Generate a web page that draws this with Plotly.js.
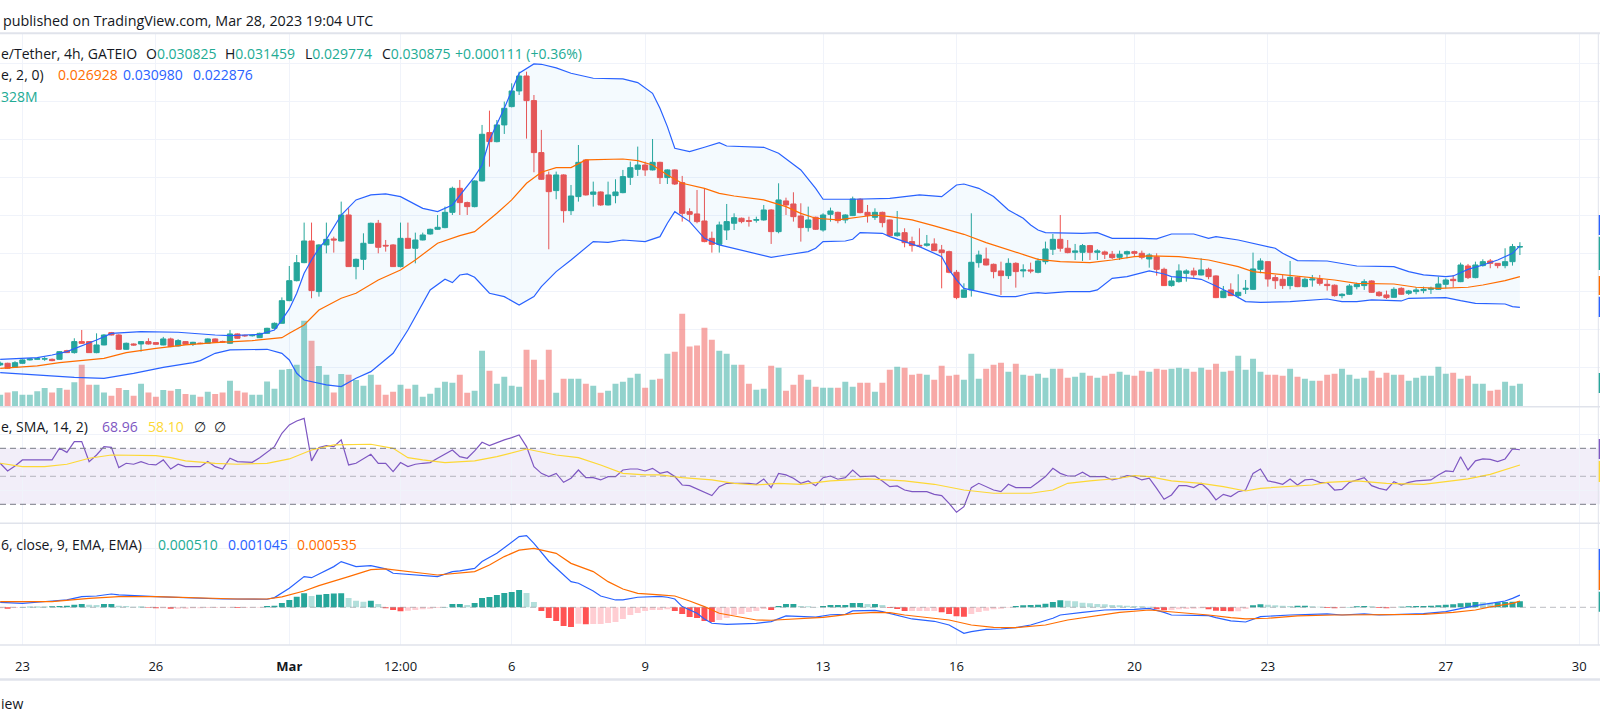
<!DOCTYPE html>
<html><head><meta charset="utf-8">
<script src="https://cdn.plot.ly/plotly-3.0.1.min.js"></script>
<style>html,body{margin:0;padding:0;background:#fff;overflow:hidden}#chart{width:1600px;height:724px}</style>
</head><body><div id="chart"></div>
<script>
// ---------- DATA ----------
const startTime = Date.UTC(2023, 1, 22, 12, 0); // first visible 4h candle
const barHours = 4;

const openP = [
0.01531,0.01553,0.01500,0.01553,0.01597,0.01605,0.01608,0.01605,0.01605,0.01719,
0.01693,0.01838,0.01838,0.01693,0.01794,0.01956,0.01925,0.01737,0.01807,0.01807,
0.01838,0.01825,0.01794,0.01873,0.01781,0.01838,0.01803,0.01818,0.01816,0.01873,
0.01840,0.01816,0.01939,0.01920,0.01915,0.01890,0.01947,0.02013,0.02079,0.02377,
0.02640,0.02877,0.03162,0.02496,0.03110,0.03189,0.03162,0.03504,0.02825,0.02921,
0.03132,0.03395,0.03105,0.03110,0.02825,0.03197,0.03066,0.03175,0.03254,0.03316,
0.03338,0.03539,0.03855,0.03667,0.03614,0.03952,0.04588,0.04469,0.04689,0.04930,
0.05136,0.05333,0.05009,0.04325,0.04031,0.03825,0.04031,0.03561,0.03746,0.04228,
0.03776,0.03807,0.03636,0.03759,0.03798,0.04000,0.04105,0.04162,0.04097,0.04197,
0.03996,0.04097,0.03930,0.03548,0.03518,0.03425,0.03197,0.03118,0.03307,0.03395,
0.03461,0.03430,0.03435,0.03439,0.03570,0.03285,0.03689,0.03649,0.03491,0.03338,
0.03474,0.03307,0.03513,0.03539,0.03439,0.03496,0.03711,0.03539,0.03474,0.03539,
0.03439,0.03232,0.03272,0.03154,0.03105,0.03105,0.03123,0.03044,0.03022,0.02750,
0.02421,0.02518,0.02877,0.02925,0.02855,0.02768,0.02706,0.02868,0.02768,0.02781,
0.02750,0.02890,0.03053,0.03184,0.03066,0.03013,0.03013,0.03101,0.03013,0.03018,
0.02987,0.02947,0.02991,0.03022,0.03000,0.02925,0.02952,0.02789,0.02575,0.02627,
0.02737,0.02768,0.02715,0.02789,0.02702,0.02417,0.02518,0.02443,0.02526,0.02526,
0.02789,0.02890,0.02680,0.02658,0.02575,0.02684,0.02561,0.02649,0.02662,0.02592,
0.02580,0.02443,0.02461,0.02561,0.02575,0.02636,0.02487,0.02452,0.02421,0.02539,
0.02474,0.02496,0.02509,0.02526,0.02526,0.02592,0.02658,0.02627,0.02833,0.02680,
0.02838,0.02899,0.02868,0.02838,0.02890,0.030825];

const highP = [
0.01575,0.01560,0.01580,0.01605,0.01620,0.01625,0.01635,0.01615,0.01712,0.01730,
0.01882,0.01991,0.01845,0.01947,0.01935,0.01965,0.01935,0.01825,0.01815,0.01845,
0.01882,0.01830,0.01900,0.01890,0.01870,0.01845,0.01835,0.01825,0.01880,0.01880,
0.01850,0.01991,0.01945,0.01930,0.01930,0.01955,0.02020,0.02090,0.02420,0.02833,
0.02978,0.03404,0.03404,0.03120,0.03404,0.03219,0.03680,0.03592,0.02930,0.03263,
0.03404,0.03439,0.03175,0.03120,0.03404,0.03404,0.03272,0.03272,0.03325,0.03504,
0.03614,0.03877,0.03965,0.03680,0.03960,0.04689,0.04877,0.04754,0.04996,0.05237,
0.05390,0.05390,0.05083,0.04623,0.04075,0.04075,0.04040,0.03899,0.04425,0.04235,
0.03943,0.03815,0.03943,0.03974,0.04097,0.04206,0.04404,0.04206,0.04504,0.04205,
0.04105,0.04105,0.04018,0.03592,0.03833,0.03855,0.03285,0.03417,0.03649,0.03526,
0.03470,0.03482,0.03482,0.03636,0.03580,0.03921,0.03732,0.03803,0.03658,0.03614,
0.03482,0.03526,0.03601,0.03548,0.03513,0.03746,0.03724,0.03636,0.03592,0.03548,
0.03445,0.03557,0.03329,0.03219,0.03329,0.03241,0.03197,0.03110,0.03035,0.02781,
0.02605,0.03526,0.03035,0.03075,0.02865,0.02890,0.02934,0.02882,0.02855,0.02877,
0.02934,0.03154,0.03254,0.03504,0.03175,0.03123,0.03123,0.03110,0.03053,0.03035,
0.03031,0.03035,0.03035,0.03035,0.03035,0.03000,0.03000,0.02811,0.02684,0.02855,
0.02789,0.02811,0.02934,0.02811,0.02710,0.02570,0.02605,0.02724,0.02649,0.03009,
0.02934,0.02895,0.02715,0.02715,0.02899,0.02693,0.02680,0.02715,0.02715,0.02649,
0.02590,0.02474,0.02596,0.02614,0.02658,0.02645,0.02504,0.02509,0.02553,0.02553,
0.02518,0.02553,0.02561,0.02561,0.02693,0.02671,0.02715,0.02877,0.02860,0.02890,
0.02921,0.02925,0.02870,0.03066,0.03123,0.031459];

const lowP = [
0.01518,0.01480,0.01496,0.01545,0.01590,0.01600,0.01585,0.01580,0.01600,0.01688,
0.01680,0.01810,0.01690,0.01685,0.01790,0.01920,0.01730,0.01730,0.01785,0.01706,
0.01800,0.01795,0.01790,0.01765,0.01775,0.01795,0.01780,0.01805,0.01810,0.01825,
0.01825,0.01810,0.01875,0.01900,0.01905,0.01885,0.01940,0.02005,0.02075,0.02370,
0.02630,0.02870,0.02408,0.02430,0.03000,0.03009,0.03155,0.02820,0.02658,0.02781,
0.03125,0.03000,0.03022,0.02820,0.02815,0.03060,0.02868,0.03170,0.03245,0.03310,
0.03330,0.03504,0.03504,0.03504,0.03605,0.03945,0.04140,0.04460,0.04570,0.04920,
0.05083,0.04509,0.04066,0.03965,0.03053,0.03711,0.03404,0.03504,0.03680,0.03760,
0.03614,0.03625,0.03630,0.03658,0.03790,0.03899,0.04018,0.04018,0.04090,0.03912,
0.03912,0.03899,0.03417,0.03417,0.03395,0.03145,0.03009,0.03009,0.03175,0.03307,
0.03395,0.03351,0.03404,0.03430,0.03123,0.03263,0.03504,0.03417,0.03154,0.03285,
0.03307,0.03285,0.03417,0.03395,0.03395,0.03490,0.03526,0.03404,0.03439,0.03342,
0.03219,0.03219,0.03079,0.03022,0.03079,0.03088,0.03030,0.02539,0.02737,0.02395,
0.02415,0.02430,0.02811,0.02840,0.02671,0.02452,0.02662,0.02548,0.02684,0.02737,
0.02737,0.02855,0.02978,0.03022,0.03000,0.02912,0.02899,0.02912,0.02912,0.02925,
0.02925,0.02912,0.02934,0.02965,0.02921,0.02811,0.02706,0.02570,0.02561,0.02614,
0.02627,0.02680,0.02710,0.02658,0.02410,0.02410,0.02439,0.02408,0.02465,0.02520,
0.02737,0.02561,0.02531,0.02531,0.02526,0.02555,0.02553,0.02561,0.02575,0.02509,
0.02430,0.02408,0.02452,0.02526,0.02518,0.02480,0.02430,0.02399,0.02417,0.02452,
0.02452,0.02461,0.02474,0.02465,0.02518,0.02539,0.02553,0.02620,0.02662,0.02671,
0.02825,0.02803,0.02803,0.02803,0.02838,0.029774];

const closeP = [
0.01553,0.01487,0.01561,0.01597,0.01610,0.01614,0.01612,0.01588,0.01706,0.01693,
0.01838,0.01816,0.01693,0.01794,0.01925,0.01925,0.01737,0.01816,0.01794,0.01838,
0.01807,0.01803,0.01873,0.01772,0.01851,0.01803,0.01829,0.01812,0.01873,0.01829,
0.01833,0.01939,0.01882,0.01915,0.01920,0.01947,0.02013,0.02079,0.02377,0.02640,
0.02877,0.03162,0.02509,0.03110,0.03184,0.03175,0.03504,0.02825,0.02921,0.03132,
0.03395,0.03079,0.03097,0.02825,0.03197,0.03066,0.03175,0.03241,0.03316,0.03342,
0.03539,0.03855,0.03667,0.03614,0.03952,0.04566,0.04469,0.04689,0.04908,0.05136,
0.05333,0.05009,0.04325,0.03974,0.03811,0.04031,0.03561,0.03754,0.04197,0.03768,
0.03807,0.03636,0.03768,0.03807,0.04009,0.04127,0.04162,0.04097,0.04197,0.03996,
0.04097,0.03912,0.03526,0.03513,0.03417,0.03154,0.03118,0.03373,0.03417,0.03469,
0.03417,0.03421,0.03443,0.03570,0.03285,0.03702,0.03636,0.03482,0.03338,0.03439,
0.03316,0.03504,0.03557,0.03430,0.03504,0.03715,0.03535,0.03496,0.03539,0.03404,
0.03232,0.03268,0.03140,0.03101,0.03097,0.03123,0.03035,0.03009,0.02750,0.02417,
0.02518,0.02882,0.02978,0.02846,0.02759,0.02706,0.02868,0.02759,0.02781,0.02768,
0.02899,0.03057,0.03184,0.03066,0.03009,0.03031,0.03101,0.03013,0.03031,0.02987,
0.02943,0.02987,0.03022,0.03000,0.02947,0.02978,0.02789,0.02575,0.02636,0.02768,
0.02768,0.02715,0.02781,0.02693,0.02417,0.02504,0.02443,0.02487,0.02539,0.02794,
0.02899,0.02662,0.02640,0.02575,0.02684,0.02561,0.02658,0.02662,0.02605,0.02575,
0.02443,0.02461,0.02570,0.02592,0.02627,0.02487,0.02443,0.02417,0.02526,0.02461,
0.02504,0.02518,0.02526,0.02539,0.02596,0.02649,0.02640,0.02846,0.02680,0.02846,
0.02890,0.02868,0.02838,0.02890,0.03088,0.030875];

// volume, millions
const volumeM = [
171,204,219,171,171,219,266,204,266,242,
347,599,314,314,204,157,266,238,157,328,
204,143,238,228,252,181,171,143,214,181,
204,371,228,204,171,171,361,257,528,537,
599,1226,941,580,456,204,466,456,380,300,
456,314,171,214,314,257,314,143,185,271,
357,342,456,200,228,799,513,328,428,300,
285,813,670,385,813,200,399,399,399,328,
300,200,228,328,357,414,471,271,385,399,
756,784,1326,860,874,1127,955,799,756,599,
599,328,242,257,585,556,228,314,456,385,
285,271,271,271,357,285,342,342,214,342,
528,570,556,456,471,456,385,585,442,456,
385,756,399,542,599,627,499,613,456,442,
471,414,542,542,414,428,485,442,414,442,
471,499,456,442,513,499,542,528,542,556,
542,499,556,528,613,499,513,727,528,684,
499,456,456,442,542,428,399,371,371,456,
471,542,456,399,414,513,414,485,456,456,
371,414,442,442,570,471,485,399,442,328,
328,228,242,357,300,328];

// Bollinger Bands (20, 2) read at candle indices
const bbUpperK = [0,5,7,9,13,15,19,24,29,31,35,37,38,39,40,41,42,43,44,45,46,48,50,52,54,57,59,61,63,64,65,66,68,69,70,72,73,75,77,80,84,86,88,89,90,91,93,95,97,98,103,105,108,110,111,115,120,124,127,129,130,132,134,136,138,139,140,141,146,148,150,154,156,158,161,163,164,167,169,172,173,175,179,181,183,188,190,192,195,196,198,200,202,204,205];
const bbUpper = [0.01605,0.01627,0.01662,0.01706,0.01860,0.01947,0.01969,0.01961,0.01925,0.01917,0.01934,0.01991,0.02123,0.02268,0.02474,0.02737,0.02912,0.03066,0.03184,0.03351,0.03504,0.03702,0.03768,0.03781,0.03746,0.03592,0.03548,0.03636,0.03877,0.04009,0.04162,0.04491,0.04908,0.05149,0.05369,0.05491,0.05487,0.05439,0.05369,0.05303,0.05294,0.05246,0.05105,0.04908,0.04667,0.04382,0.04338,0.04395,0.04456,0.04412,0.04395,0.04316,0.04097,0.03855,0.03711,0.03711,0.03724,0.03768,0.03746,0.03899,0.03912,0.03855,0.03746,0.03570,0.03461,0.03373,0.03307,0.03272,0.03263,0.03272,0.03197,0.03197,0.03189,0.03254,0.03254,0.03197,0.03219,0.03175,0.03132,0.03066,0.03000,0.02904,0.02899,0.02868,0.02833,0.02825,0.02759,0.02715,0.02693,0.02702,0.02789,0.02846,0.02912,0.03000,0.03098];
const bbMidK = [0,5,8,12,14,17,21,25,29,34,35,37,38,39,41,43,46,48,51,54,56,59,62,64,66,67,69,71,73,75,77,79,84,86,88,90,92,95,97,99,103,106,108,110,113,116,118,120,123,126,129,130,133,136,139,140,143,147,150,153,155,159,163,167,169,172,176,180,183,188,191,194,198,200,203,205];
const bbMid = [0.01487,0.01518,0.01561,0.01597,0.01618,0.01693,0.01750,0.01794,0.01825,0.01851,0.01860,0.01877,0.01890,0.01947,0.02057,0.02254,0.02408,0.02474,0.02649,0.02781,0.02912,0.03132,0.03232,0.03285,0.03439,0.03526,0.03702,0.03921,0.04066,0.04127,0.04127,0.04228,0.04241,0.04219,0.04162,0.04031,0.03921,0.03855,0.03789,0.03754,0.03702,0.03614,0.03526,0.03461,0.03439,0.03482,0.03504,0.03482,0.03439,0.03360,0.03276,0.03250,0.03140,0.03044,0.02956,0.02921,0.02890,0.02877,0.02912,0.02956,0.02965,0.02956,0.02912,0.02825,0.02759,0.02728,0.02684,0.02649,0.02605,0.02596,0.02553,0.02539,0.02553,0.02583,0.02640,0.026928];
const bbLowerK = [0,5,10,14,18,22,26,27,29,31,36,38,39,40,41,44,46,48,50,53,55,58,60,61,62,63,64,66,68,70,72,73,75,77,79,80,82,84,87,89,90,91,93,95,97,99,102,104,106,109,110,111,114,115,116,119,120,122,124,127,128,129,130,132,135,137,139,140,141,144,147,148,150,152,154,155,157,158,161,162,164,166,168,170,174,179,181,183,185,189,190,195,197,199,203,204,205];
const bbLower = [0.01430,0.01399,0.01368,0.01355,0.01421,0.01500,0.01561,0.01588,0.01684,0.01728,0.01737,0.01684,0.01597,0.01421,0.01333,0.01268,0.01246,0.01355,0.01443,0.01684,0.01991,0.02518,0.02658,0.02614,0.02715,0.02728,0.02684,0.02474,0.02430,0.02320,0.02430,0.02561,0.02759,0.02912,0.03066,0.03154,0.03145,0.03175,0.03154,0.03219,0.03395,0.03548,0.03417,0.03197,0.03110,0.03066,0.03000,0.02947,0.02978,0.03022,0.03066,0.03154,0.03162,0.03184,0.03272,0.03263,0.03219,0.03154,0.03088,0.02956,0.02781,0.02649,0.02539,0.02496,0.02430,0.02430,0.02474,0.02482,0.02474,0.02496,0.02496,0.02518,0.02671,0.02693,0.02737,0.02768,0.02728,0.02693,0.02671,0.02658,0.02570,0.02474,0.02364,0.02355,0.02364,0.02399,0.02364,0.02364,0.02386,0.02373,0.02408,0.02417,0.02377,0.02342,0.02333,0.02298,0.022876];

// RSI (14) per candle
const rsi = [
59.3,53.8,57.4,61.7,61.7,61.7,61.7,61.7,70.0,67.1,
74.8,74.8,60.5,65.2,71.2,70.7,56.2,59.3,58.6,60.5,
58.6,58.1,61.7,55.2,58.6,56.9,56.9,56.9,60.5,56.9,
55.2,62.9,60.5,60.2,60.0,63.3,67.1,71.2,80.7,86.7,
89.5,91.4,61.0,70.5,71.9,71.2,76.0,58.1,59.3,62.4,
65.7,59.3,59.3,53.3,59.8,56.9,58.6,59.3,59.8,62.9,
65.7,68.8,64.0,62.9,68.1,74.3,71.9,74.0,76.0,77.6,
79.5,71.2,56.9,52.1,49.8,52.1,45.7,48.6,54.5,49.0,
49.0,47.4,49.8,49.8,54.5,55.2,55.2,53.8,55.7,52.1,
53.3,49.8,43.8,43.3,41.0,39.0,36.2,42.6,45.0,45.0,
45.0,45.0,44.3,48.1,41.9,52.1,51.0,48.6,45.0,46.7,
43.3,49.0,50.2,47.9,49.0,54.5,49.8,49.8,50.2,46.7,
42.6,43.1,40.2,39.0,39.0,39.0,37.1,36.2,30.7,24.3,
28.3,41.9,45.0,42.6,40.2,39.0,44.3,41.9,41.9,41.9,
45.7,49.8,55.7,52.1,50.2,50.2,52.9,49.8,49.8,49.8,
47.4,48.6,50.5,49.8,47.4,48.6,41.4,33.6,36.7,43.3,
43.3,41.9,45.0,40.2,33.1,37.1,35.5,39.0,40.2,52.1,
55.2,46.7,45.7,44.3,48.1,43.8,47.4,47.9,45.7,45.5,
40.2,40.7,45.7,47.4,49.0,43.3,41.4,40.2,46.2,43.8,
45.7,46.7,47.1,47.4,51.0,53.8,53.3,64.0,54.5,61.0,
62.4,62.1,60.5,62.4,69.5,68.96];
const rsiMaK = [0,3,6,9,12,15,21,23,25,29,32,36,39,42,45,50,53,55,57,60,64,67,71,75,78,81,84,87,89,92,96,99,102,105,108,112,117,122,126,130,134,139,142,144,147,151,153,155,158,162,165,168,170,174,177,179,183,187,192,195,198,201,203,205];
const rsiMa = [59.3,56.9,56.9,58.6,62.9,65.2,64.8,63.3,61.0,59.3,58.6,59.3,62.4,68.8,72.4,72.9,70.0,63.3,61.7,59.8,61.0,64.0,69.5,65.2,63.3,58.1,52.1,51.0,51.0,49.0,47.4,45.0,43.8,45.0,44.3,46.7,48.1,46.7,44.3,40.2,37.9,37.9,40.2,45.0,46.7,48.6,50.5,49.8,46.7,45.0,42.6,39.5,41.4,42.6,43.8,45.7,46.7,45.0,44.3,46.2,48.1,51.4,54.5,58.10];

// MACD (12, 26, 9)
const macdK = [0,3,7,9,11,13,15,16,21,26,30,36,37,39,41,42,44,45,46,47,48,50,52,53,56,59,61,62,64,65,67,68,70,71,72,74,75,77,78,80,81,83,84,86,89,90,91,92,94,95,96,98,102,104,106,108,110,112,114,115,118,119,121,123,126,128,130,131,133,135,137,139,142,143,146,149,153,155,157,158,163,164,166,168,170,174,179,181,184,186,189,192,195,197,199,201,203,204,205];
const macdLine = [0.00043,0.00034,0.00054,0.00063,0.00091,0.00097,0.00114,0.00106,0.00091,0.00083,0.00071,0.00069,0.00083,0.00163,0.00263,0.00254,0.00320,0.00349,0.00392,0.00369,0.00349,0.00357,0.00329,0.00292,0.00277,0.00263,0.00306,0.00312,0.00334,0.00392,0.00463,0.00510,0.00606,0.00615,0.00549,0.00395,0.00334,0.00220,0.00206,0.00140,0.00097,0.00063,0.00063,0.00086,0.00094,0.00086,0.00071,0.00006,-0.00051,-0.00100,-0.00137,-0.00146,-0.00137,-0.00123,-0.00074,-0.00080,-0.00085,-0.00064,-0.00060,-0.00031,-0.00026,-0.00037,-0.00066,-0.00100,-0.00120,-0.00152,-0.00223,-0.00209,-0.00189,-0.00186,-0.00174,-0.00152,-0.00094,-0.00066,-0.00043,-0.00023,-0.00017,-0.00009,-0.00043,-0.00066,-0.00071,-0.00089,-0.00117,-0.00126,-0.00080,-0.00066,-0.00057,-0.00066,-0.00057,-0.00066,-0.00060,-0.00054,-0.00037,-0.00009,0.00014,0.00034,0.00054,0.00077,0.001045];
const signalK = [0,7,12,16,21,27,32,36,38,41,43,47,50,52,54,57,59,62,64,66,68,70,72,75,77,80,82,84,86,89,91,93,95,97,100,102,104,106,109,111,113,115,118,120,122,125,128,131,134,137,141,144,148,151,155,158,163,166,168,171,175,180,188,192,196,199,201,204,205];
const signalLine = [0.00049,0.00049,0.00077,0.00091,0.00091,0.00077,0.00071,0.00071,0.00089,0.00140,0.00186,0.00263,0.00323,0.00329,0.00312,0.00292,0.00277,0.00292,0.00306,0.00363,0.00435,0.00490,0.00506,0.00463,0.00377,0.00306,0.00220,0.00157,0.00120,0.00106,0.00097,0.00054,0.00006,-0.00051,-0.00089,-0.00109,-0.00111,-0.00103,-0.00094,-0.00086,-0.00071,-0.00054,-0.00043,-0.00046,-0.00066,-0.00088,-0.00109,-0.00152,-0.00172,-0.00174,-0.00152,-0.00109,-0.00071,-0.00043,-0.00023,-0.00037,-0.00066,-0.00089,-0.00100,-0.00094,-0.00074,-0.00066,-0.00066,-0.00060,-0.00043,-0.00023,0.00003,0.00034,0.000535];
const macdHist = [
-0.000086,-0.000114,-0.000057,0.000029,0.000057,0.000057,0.000057,0.000086,0.000114,0.000143,
0.000229,0.000286,0.000229,0.0002,0.000286,0.000286,0.000143,0.000114,0.000057,0.000057,
-0.000029,-0.000086,-0.000086,-0.000114,-0.000114,-0.000114,-0.000086,-0.000086,-0.000057,-0.000057,
-0.000057,-0.000029,-0.000057,-0.000057,-0.000029,-0.000029,0.000114,0.000143,0.000372,0.000629,
0.000915,0.001201,0.000972,0.001087,0.001144,0.001173,0.001201,0.000801,0.000572,0.000486,
0.000572,0.000286,-0.000086,-0.000229,-0.000343,-0.000286,-0.000229,-0.000172,-0.000114,-0.000057,
0.000029,0.000286,0.000286,0.0002,0.000372,0.000801,0.000887,0.001058,0.00123,0.001316,
0.001487,0.00123,0.000458,-0.000315,-0.000915,-0.001173,-0.001602,-0.001687,-0.001401,-0.001459,
-0.00143,-0.00143,-0.001344,-0.001258,-0.001,-0.000658,-0.000486,-0.000315,-0.000229,-0.000229,
-0.000172,-0.000315,-0.000572,-0.000829,-0.000915,-0.001173,-0.001258,-0.001087,-0.000915,-0.000658,
-0.000572,-0.0004,-0.000315,-0.000143,-0.000229,0.000114,0.000286,0.000286,0.000114,0.000086,
0.000029,0.000114,0.0002,0.0002,0.0002,0.000372,0.000372,0.000286,0.000286,0.0002,
-0.000057,-0.000143,-0.000315,-0.000315,-0.000315,-0.000315,-0.000315,-0.000429,-0.000572,-0.000772,
-0.000801,-0.000572,-0.0004,-0.000286,-0.000172,-0.000114,-0.000029,0.000114,0.000172,0.0002,
0.000229,0.000315,0.000458,0.000601,0.000572,0.000515,0.0004,0.000343,0.000286,0.000257,
0.0002,0.000172,0.000143,0.000114,0.000086,0.000057,-0.000172,-0.000257,-0.000229,-0.000172,
-0.000143,-0.000114,-0.000086,-0.000172,-0.000286,-0.000315,-0.000343,-0.000343,-0.000143,0.000172,
0.000257,0.000229,0.000172,0.000143,0.000114,0.000143,0.000143,0.000086,0.000057,-0.000057,
-0.000086,-0.000057,0.000029,0.000086,0.000114,0.000086,-0.000057,-0.000086,-0.000029,0.000057,
0.000086,0.000114,0.000114,0.000143,0.000172,0.000229,0.000257,0.000343,0.0004,0.000458,
0.000429,0.0004,0.000429,0.000458,0.000486,0.00051];

// time-axis labels
const tickDates = ['2023-02-23','2023-02-26','2023-03-01','2023-03-03 12:00','2023-03-06','2023-03-09','2023-03-13','2023-03-16','2023-03-20','2023-03-23','2023-03-27','2023-03-30'];
const tickLabels = ['23','26','<b>Mar</b>','12:00','6','9','13','16','20','23','27','30'];

// ---------- BUILD ----------
function t(k){ return new Date(startTime + k*barHours*3600000).toISOString().slice(0,16).replace('T',' '); }
const times = openP.map((_, i) => t(i));
const UP = '#26a69a', DN = '#ef5350';
const volColors = closeP.map((c, i) => c >= openP[i] ? 'rgba(38,166,154,0.5)' : 'rgba(239,83,80,0.5)');
const histColors = macdHist.map((v, i) => {
  const p = i > 0 ? macdHist[i-1] : v;
  if (v >= 0) return v >= p ? '#26a69a' : '#b2dfdb';
  return v < p ? '#ff5252' : '#ffcdd2';
});

const traces = [
  {type:'bar', x:times, y:volumeM, xaxis:'x', yaxis:'y', marker:{color:volColors, line:{width:0}}, hoverinfo:'skip'},
  {type:'scatter', mode:'lines', xaxis:'x', yaxis:'y2',
   x: bbUpperK.map(t).concat(bbLowerK.slice().reverse().map(t)),
   y: bbUpper.concat(bbLower.slice().reverse()),
   fill:'toself', fillcolor:'rgba(33,150,243,0.05)', line:{width:0}, hoverinfo:'skip'},
  {type:'candlestick', x:times, open:openP, high:highP, low:lowP, close:closeP, xaxis:'x', yaxis:'y2',
   increasing:{line:{color:UP, width:1}, fillcolor:UP}, decreasing:{line:{color:DN, width:1}, fillcolor:DN},
   whiskerwidth:0, hoverinfo:'skip'},
  {type:'scatter', mode:'lines', x:bbUpperK.map(t), y:bbUpper, xaxis:'x', yaxis:'y2', line:{color:'#2962ff', width:1.2}, hoverinfo:'skip'},
  {type:'scatter', mode:'lines', x:bbLowerK.map(t), y:bbLower, xaxis:'x', yaxis:'y2', line:{color:'#2962ff', width:1.2}, hoverinfo:'skip'},
  {type:'scatter', mode:'lines', x:bbMidK.map(t), y:bbMid, xaxis:'x', yaxis:'y2', line:{color:'#ff6d00', width:1.2}, hoverinfo:'skip'},
  {type:'scatter', mode:'lines', x:times, y:rsi, xaxis:'x', yaxis:'y3', line:{color:'#7e57c2', width:1.2}, hoverinfo:'skip'},
  {type:'scatter', mode:'lines', x:rsiMaK.map(t), y:rsiMa, xaxis:'x', yaxis:'y3', line:{color:'#fdd835', width:1.2}, hoverinfo:'skip'},
  {type:'bar', x:times, y:macdHist, xaxis:'x', yaxis:'y4', marker:{color:histColors, line:{width:0}}, hoverinfo:'skip'},
  {type:'scatter', mode:'lines', x:macdK.map(t), y:macdLine, xaxis:'x', yaxis:'y4', line:{color:'#2962ff', width:1.2}, hoverinfo:'skip'},
  {type:'scatter', mode:'lines', x:signalK.map(t), y:signalLine, xaxis:'x', yaxis:'y4', line:{color:'#ff6d00', width:1.2}, hoverinfo:'skip'}
];

const W = 1600, H = 724;
const px = v => v / W, py = v => 1 - v / H;
const GRID = '#f0f3fa', SEP = '#e0e3eb', TXT = '#131722';
const FONT = '"Open Sans", Roboto, sans-serif';

function ann(text, x, y, color, size){
  return {text:text, x:px(x), y:py(y), xref:'paper', yref:'paper', xanchor:'left', yanchor:'middle',
          showarrow:false, borderpad:0, font:{family:FONT, size:size||14, color:color||TXT}};
}
const G = '#22ab94';
const annotations = [
  ann('published on TradingView.com, Mar 28, 2023 19:04 UTC', 2, 20.7, TXT, 14.3),
  ann('e/Tether, 4h, GATEIO', 0, 54),
  ann('O<span style="color:'+G+'">0.030825</span>', 145, 54),
  ann('H<span style="color:'+G+'">0.031459</span>', 224, 54),
  ann('L<span style="color:'+G+'">0.029774</span>', 304, 54),
  ann('C<span style="color:'+G+'">0.030875</span>', 380.5, 54),
  ann('+0.000111 (+0.36%)', 453.5, 54, G),
  ann('e, 2, 0)', 0, 75),
  ann('0.026928', 57, 75, '#ff6d00'),
  ann('0.030980', 122, 75, '#2962ff'),
  ann('0.022876', 192, 75, '#2962ff'),
  ann('328M', 0, 96, G),
  ann('e, SMA, 14, 2)', 0, 426.7),
  ann('68.96', 101, 426.7, '#7e57c2'),
  ann('58.10', 147, 426.7, '#fdd835'),
  ann('\u2205', 193, 426.7),
  ann('\u2205', 213, 426.7),
  ann('6, close, 9, EMA, EMA)', 0, 544),
  ann('0.000510', 157, 544, G),
  ann('0.001045', 227, 544, '#2962ff'),
  ann('0.000535', 296, 544, '#ff6d00'),
  ann('iew', 0, 703, TXT, 14)
];

function hline(y, color, width, dash){
  return {type:'line', xref:'paper', yref:'paper', x0:0, x1:1, y0:py(y), y1:py(y), line:{color:color, width:width, dash:dash||'solid'}};
}
const shapes = [
  {type:'rect', xref:'paper', yref:'y3', x0:0, x1:1, y0:30, y1:70, fillcolor:'rgba(126,87,194,0.1)', line:{width:0}, layer:'below'},
  {type:'line', xref:'paper', yref:'y3', x0:0, x1:1, y0:70, y1:70, line:{color:'#787b86', width:1, dash:'6px,4px'}},
  {type:'line', xref:'paper', yref:'y3', x0:0, x1:1, y0:50, y1:50, line:{color:'rgba(120,123,134,0.5)', width:1, dash:'6px,4px'}},
  {type:'line', xref:'paper', yref:'y3', x0:0, x1:1, y0:30, y1:30, line:{color:'#787b86', width:1, dash:'6px,4px'}},
  {type:'line', xref:'paper', yref:'y4', x0:0, x1:1, y0:0, y1:0, line:{color:'rgba(120,123,134,0.5)', width:1, dash:'6px,4px'}},
  hline(33.3, SEP, 2),
  hline(406.7, SEP, 1.5),
  hline(523.3, SEP, 1.5),
  hline(645, SEP, 1.5),
  hline(679.5, SEP, 2.5),
  {type:'line', xref:'paper', yref:'paper', x0:px(1598.3), x1:px(1598.3), y0:py(645), y1:py(34), line:{color:SEP, width:1}}
];
[[215,235,'#2962ff'],[236.7,270,'#26a69a'],[276,295,'#ff6d00'],[296.7,317,'#2962ff'],[373,393,'#26a69a'],
 [439,459,'#7e57c2'],[461,482,'#fdd835'],[549,570,'#2962ff'],[570,590,'#ff6d00'],[591.7,611.7,'#26a69a']].forEach(s => {
  shapes.push({type:'rect', xref:'paper', yref:'paper', x0:px(1598.7), x1:1, y0:py(s[1]), y1:py(s[0]), fillcolor:s[2], line:{width:0}});
});

const layout = {
  width:W, height:H, margin:{l:0, r:0, t:0, b:0, pad:0},
  paper_bgcolor:'#ffffff', plot_bgcolor:'#ffffff', showlegend:false,
  font:{family:FONT, color:TXT},
  barmode:'overlay', bargap:0.2, boxgap:0.3, boxgroupgap:0,
  xaxis:{type:'date', domain:[0,1], anchor:'y4', range:['2023-02-22 11:54','2023-03-30 11:13'],
         tickmode:'array', tickvals:tickDates, ticktext:tickLabels,
         showgrid:true, gridcolor:GRID, gridwidth:1, zeroline:false, showline:false,
         ticks:'outside', ticklen:9, tickcolor:'rgba(0,0,0,0)',
         tickfont:{family:FONT, size:13, color:TXT}, rangeslider:{visible:false}, fixedrange:true},
  yaxis:{domain:[0.438260, 0.953039], anchor:'x', range:[0, 5315], showgrid:false, showticklabels:false, zeroline:false, fixedrange:true},
  yaxis2:{overlaying:'y', anchor:'x', side:'right', range:[0.009816, 0.058855],
          tickmode:'array', tickvals:[0.015,0.020,0.025,0.030,0.035,0.040,0.045,0.050,0.055],
          showgrid:true, gridcolor:GRID, showticklabels:false, zeroline:false, fixedrange:true},
  yaxis3:{domain:[0.277210, 0.438260], anchor:'x', range:[16.43, 99.71], tickmode:'array', tickvals:[40,80],
          showgrid:true, gridcolor:GRID, showticklabels:false, zeroline:false, fixedrange:true},
  yaxis4:{domain:[0.109116, 0.277210], anchor:'x', range:[-0.003233, 0.007204], tickmode:'array', tickvals:[0.005],
          showgrid:true, gridcolor:GRID, showticklabels:false, zeroline:false, fixedrange:true},
  annotations:annotations, shapes:shapes
};

Plotly.newPlot('chart', traces, layout, {staticPlot:true, displayModeBar:false});
</script>
</body></html>
